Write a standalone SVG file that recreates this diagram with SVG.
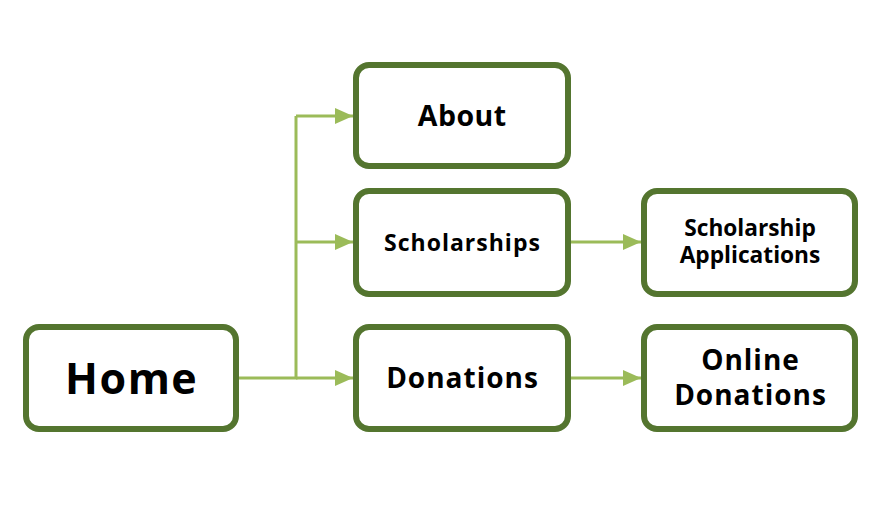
<svg xmlns="http://www.w3.org/2000/svg" width="884" height="506" viewBox="0 0 884 506">
<style>
.box{fill:#fff;stroke:#54752F;stroke-width:6}
.t{font-family:"Open Sans","DejaVu Sans",sans-serif;font-weight:bold;fill:#000;text-anchor:middle}
.c{fill:none;stroke:#9BBB59;stroke-width:3}
</style>
<defs>
<marker id="a" markerWidth="18" markerHeight="16" refX="18" refY="8" orient="auto" markerUnits="userSpaceOnUse">
<path d="M0,0 L18,8 L0,16 Z" fill="#9BBB59"/>
</marker>
</defs>
<rect width="884" height="506" fill="#fff"/>
<g id="connectors">
<path class="c" d="M239,378 H296 V116"/>
<path class="c" d="M296,116 H353" marker-end="url(#a)"/>
<path class="c" d="M296,242 H353" marker-end="url(#a)"/>
<path class="c" d="M296,378 H353" marker-end="url(#a)"/>
<path class="c" d="M571,242 H641" marker-end="url(#a)"/>
<path class="c" d="M571,378 H641" marker-end="url(#a)"/>
</g>
<g id="home"><rect class="box" x="26" y="327" width="210" height="102" rx="13"/><text class="t" x="131.7" y="394" font-size="43" letter-spacing="1.5">Home</text></g>
<g id="about"><rect class="box" x="356" y="65" width="212" height="101" rx="13"/><text class="t" x="462.2" y="126" font-size="28.5" letter-spacing="0.5">About</text></g>
<g id="scholarships"><rect class="box" x="356" y="191" width="212" height="103" rx="13"/><text class="t" x="462.5" y="251" font-size="23" letter-spacing="1">Scholarships</text></g>
<g id="donations"><rect class="box" x="356" y="327" width="212" height="102" rx="13"/><text class="t" x="462.5" y="388" font-size="28" letter-spacing="1">Donations</text></g>
<g id="scholarship-applications"><rect class="box" x="644" y="191" width="211" height="103" rx="13"/><text class="t" x="750" y="236" font-size="22.7">Scholarship</text><text class="t" x="750" y="263" font-size="22.7">Applications</text></g>
<g id="online-donations"><rect class="box" x="644" y="327" width="211" height="102" rx="13"/><text class="t" x="750.5" y="369.5" font-size="28" letter-spacing="1">Online</text><text class="t" x="750.5" y="404.5" font-size="28" letter-spacing="1">Donations</text></g>
</svg>
